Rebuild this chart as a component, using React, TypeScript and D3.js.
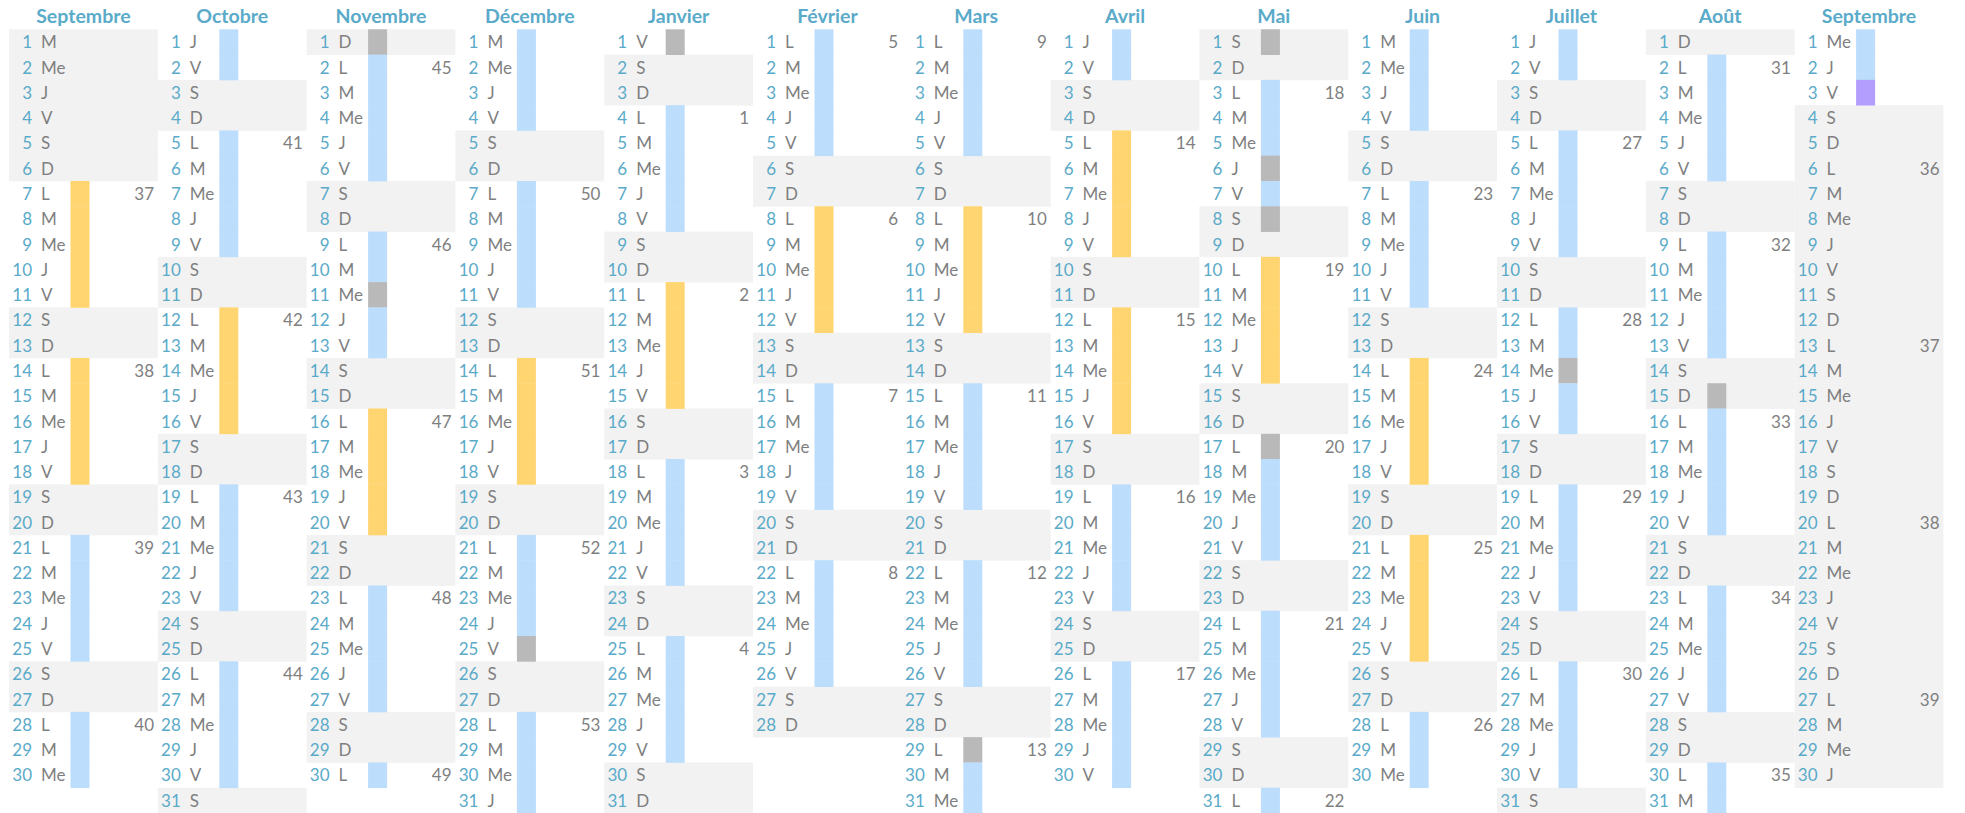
import React from "react";
import * as d3 from "d3";

// ---- Data ----
const MONTH_NAMES = ["Septembre", "Octobre", "Novembre", "Décembre", "Janvier", "Février", "Mars", "Avril", "Mai", "Juin", "Juillet", "Août", "Septembre"];
const MONTH_YEARS = [2026, 2026, 2026, 2026, 2027, 2027, 2027, 2027, 2027, 2027, 2027, 2027, 2027];
const MONTH_NUMBERS = [8, 9, 10, 11, 0, 1, 2, 3, 4, 5, 6, 7, 8];
const WEEKDAY_LETTERS = ["D", "L", "M", "Me", "J", "V", "S"];
// codes per day: b = blue bar, o = orange bar, h = holiday (grey bar), p = purple bar,
// x = inactive (grey background), . = nothing
const DAY_CODES = [
  "xxxxxxooooo..ooooo..bbbbb..bbb",
  "bb..bbbbb..ooooo..bbbbb..bbbbb.",
  "hbbbbb..bbhbb..ooooo..bbbbb..b",
  "bbbb..bbbbb..ooooo..bbbbh..bbbb",
  "h..bbbbb..ooooo..bbbbb..bbbbb..",
  "bbbbb..ooooo..bbbbb..bbbbb..",
  "bbbbb..ooooo..bbbbb..bbbbb..hbb",
  "bb..ooooo..ooooo..bbbbb..bbbbb",
  "h.bbbhbh.ooooo..hbbbb..bbbbb..b",
  "bbbb..bbbbb..ooooo..ooooo..bbb",
  "bb..bbbbb..bbhbb..bbbbb..bbbbb.",
  ".bbbbb..bbbbb.hbbbbb..bbbbb..bb",
  "bbpxxxxxxxxxxxxxxxxxxxxxxxxxxx",
];

const BAR_COLORS: Record<string, string> = {
  b: "#BCDDFB",
  o: "#FFD571",
  h: "#B9B9B9",
  p: "#B39DFD",
};

const W = 1965;
const H = 813;

function isoWeek(y: number, m: number, d: number) {
  const dt = new Date(Date.UTC(y, m, d));
  const dayNum = dt.getUTCDay() || 7;
  dt.setUTCDate(dt.getUTCDate() + 4 - dayNum);
  const yearStart = Date.UTC(dt.getUTCFullYear(), 0, 1);
  return Math.ceil(((dt.getTime() - yearStart) / 86400000 + 1) / 7);
}

export default function App() {
  const x = d3
    .scaleBand<number>()
    .domain(d3.range(MONTH_NAMES.length))
    .range([9, 9 + 13 * 148.8])
    .padding(0);
  const y = d3
    .scaleBand<number>()
    .domain(d3.range(1, 32))
    .range([29.3, 29.3 + 31 * 25.28])
    .padding(0);
  const cw = x.bandwidth();
  const rh = y.bandwidth();
  const font = "Lato, 'Open Sans', sans-serif";

  return (
    <div style={{ position: "absolute", left: 0, top: 0 }}>
      <svg width={W} height={H} style={{ display: "block", background: "#fff" }}>
        {MONTH_NAMES.map((name, mi) => {
          const x0 = x(mi)!;
          const codes = DAY_CODES[mi];
          const yr = MONTH_YEARS[mi];
          const mo = MONTH_NUMBERS[mi];
          const days = d3.range(1, codes.length + 1);
          return (
            <g key={mi}>
              {days.map((d) => {
                const wd = new Date(yr, mo, d).getDay();
                const code = codes[d - 1];
                const weekend = wd === 0 || wd === 6;
                const grey = weekend || code === "x";
                return grey ? (
                  <rect key={"bg" + d} x={x0} y={y(d)!} width={cw} height={rh + 0.4} fill="#F2F2F2" />
                ) : null;
              })}
              {days.map((d) => {
                const code = codes[d - 1];
                const col = BAR_COLORS[code];
                return col ? (
                  <rect key={"bar" + d} x={x0 + 61.5} y={y(d)!} width={19} height={rh + 0.4} fill={col} />
                ) : null;
              })}
              <text
                x={x0 + cw / 2}
                y={23}
                textAnchor="middle"
                fontFamily={font}
                fontWeight={700}
                fontSize={19.5}
                fill="#5AAAC9"
              >
                {name}
              </text>
              {days.map((d) => {
                const wd = new Date(yr, mo, d).getDay();
                const by = y(d)! + 19;
                return (
                  <g key={"t" + d}>
                    <text x={x0 + 23} y={by} textAnchor="end" fontFamily={font} fontSize={17} fill="#5AAAC9">
                      {d}
                    </text>
                    <text x={x0 + 32} y={by} fontFamily={font} fontSize={17} fill="#7F7F7F">
                      {WEEKDAY_LETTERS[wd]}
                    </text>
                    {wd === 1 ? (
                      <text x={x0 + 145} y={by} textAnchor="end" fontFamily={font} fontSize={17} fill="#7F7F7F">
                        {isoWeek(yr, mo, d)}
                      </text>
                    ) : null}
                  </g>
                );
              })}
            </g>
          );
        })}
      </svg>
    </div>
  );
}
